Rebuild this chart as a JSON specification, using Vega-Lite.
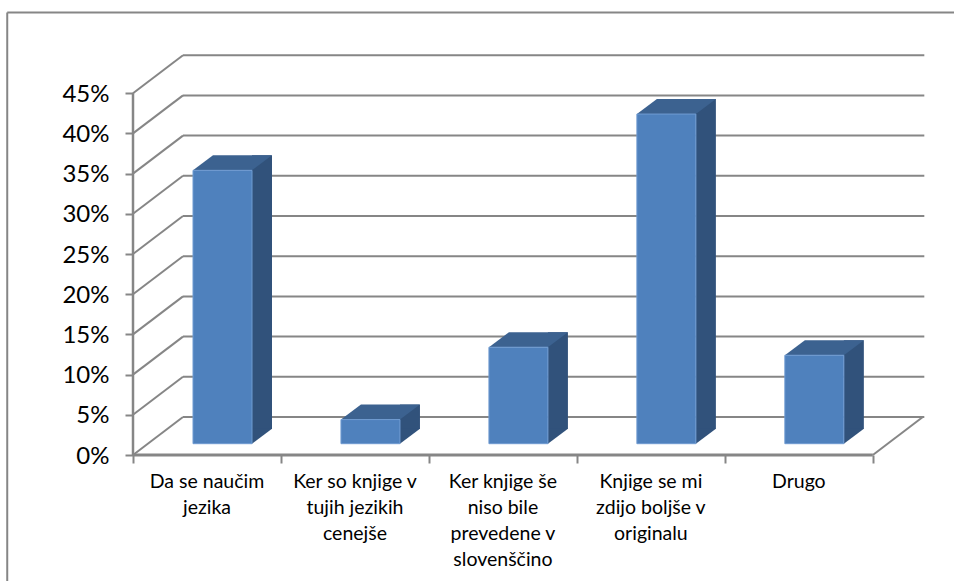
{
  "$schema": "https://vega.github.io/schema/vega-lite/v6.json",
  "width": 799,
  "height": 402,
  "padding": {"left": 133, "top": 53, "right": 22, "bottom": 126},
  "autosize": {"type": "none"},
  "background": "white",
  "view": {"stroke": null},
  "config": {"font": "Lato"},
  "datasets": {
    "answers": [
      {"order": 0, "label": "Da se naučim\njezika", "share": 0.34},
      {"order": 1, "label": "Ker so knjige v\ntujih jezikih\ncenejše", "share": 0.03},
      {"order": 2, "label": "Ker knjige še\nniso bile\nprevedene v\nslovenščino", "share": 0.12},
      {"order": 3, "label": "Knjige se mi\nzdijo boljše v\noriginalu", "share": 0.41},
      {"order": 4, "label": "Drugo", "share": 0.11}
    ],
    "levels": [
      {"level": 0}, {"level": 0.05}, {"level": 0.1}, {"level": 0.15}, {"level": 0.2},
      {"level": 0.25}, {"level": 0.3}, {"level": 0.35}, {"level": 0.4}, {"level": 0.45}
    ],
    "single": [{"part": "frame"}]
  },
  "layer": [
    {
      "data": {"name": "levels"},
      "mark": {"type": "rule", "color": "#868686", "strokeWidth": 2, "xOffset": 50, "x2Offset": 51.5, "yOffset": -38},
      "encoding": {
        "x": {"datum": 0, "type": "quantitative", "title": null, "scale": {"domain": [0, 5.4], "nice": false, "zero": false},
          "axis": {"values": [0, 1, 2, 3, 4, 5], "labels": false, "domain": false, "grid": false, "title": null, "tickColor": "#868686", "tickWidth": 2, "tickSize": 8}},
        "x2": {"datum": 5},
        "y": {"field": "level", "type": "quantitative", "title": null, "scale": {"domain": [0, 0.5], "nice": false},
          "axis": {"values": [0, 0.05, 0.1, 0.15, 0.2, 0.25, 0.3, 0.35, 0.4, 0.45], "format": ".0%", "domain": false, "grid": false, "title": null, "tickColor": "#868686", "tickWidth": 2, "tickSize": 8, "labelFontSize": 24, "labelFont": "Lato", "labelColor": "#000000", "labelPadding": 16, "labelOffset": 1}}
      }
    },
    {
      "data": {"name": "levels"},
      "mark": {"type": "rule", "color": "#868686", "strokeWidth": 2, "x2Offset": 50, "y2Offset": -38},
      "encoding": {
        "x": {"datum": 0, "type": "quantitative", "title": null},
        "x2": {"datum": 0},
        "y": {"field": "level", "type": "quantitative", "title": null},
        "y2": {"field": "level"}
      }
    },
    {
      "data": {"name": "single"},
      "mark": {"type": "rule", "color": "#868686", "strokeWidth": 2, "x2Offset": 50, "y2Offset": -38},
      "encoding": {
        "x": {"datum": 5, "type": "quantitative", "title": null},
        "x2": {"datum": 5},
        "y": {"datum": 0, "type": "quantitative", "title": null},
        "y2": {"datum": 0}
      }
    },
    {
      "data": {"name": "single"},
      "mark": {"type": "rule", "color": "#868686", "strokeWidth": 3},
      "encoding": {
        "x": {"datum": 0, "type": "quantitative", "title": null},
        "x2": {"datum": 5},
        "y": {"datum": 0, "type": "quantitative", "title": null}
      }
    },
    {
      "data": {"name": "single"},
      "mark": {"type": "rule", "color": "#868686", "strokeWidth": 2.5},
      "encoding": {
        "x": {"datum": 0, "type": "quantitative", "title": null},
        "y": {"datum": 0, "type": "quantitative", "title": null},
        "y2": {"datum": 0.45}
      }
    },
    {
      "data": {"name": "single"},
      "mark": {"type": "rule", "color": "#868686", "strokeWidth": 2},
      "encoding": {
        "x": {"datum": -0.85, "type": "quantitative", "title": null},
        "x2": {"datum": 5.6},
        "y": {"datum": 0.5505, "type": "quantitative", "title": null}
      }
    },
    {
      "data": {"name": "single"},
      "mark": {"type": "rule", "color": "#868686", "strokeWidth": 2},
      "encoding": {
        "x": {"datum": -0.85, "type": "quantitative", "title": null},
        "y": {"datum": 0.5505, "type": "quantitative", "title": null},
        "y2": {"datum": -0.2}
      }
    },
    {
      "data": {"name": "answers"},
      "mark": {"type": "rect", "color": "#31527B", "xOffset": 119, "x2Offset": 139, "yOffset": -26.3, "y2Offset": -26},
      "encoding": {
        "x": {"field": "order", "type": "quantitative", "title": null},
        "x2": {"field": "order"},
        "y": {"field": "share", "type": "quantitative", "title": null},
        "y2": {"datum": 0}
      }
    },
    {
      "data": {"name": "answers"},
      "mark": {"type": "point", "shape": "M0,0L20,-15L0,-15Z", "size": 4, "filled": true, "opacity": 1, "color": "#31527B", "xOffset": 119, "yOffset": -11.3},
      "encoding": {
        "x": {"field": "order", "type": "quantitative", "title": null},
        "y": {"datum": 0, "type": "quantitative", "title": null}
      }
    },
    {
      "data": {"name": "answers"},
      "mark": {"type": "point", "shape": "M0,0L59,0L79,-15L20,-15Z", "size": 4, "filled": true, "opacity": 1, "color": "#3C6290", "xOffset": 60, "yOffset": -11.3},
      "encoding": {
        "x": {"field": "order", "type": "quantitative", "title": null},
        "y": {"field": "share", "type": "quantitative", "title": null}
      }
    },
    {
      "data": {"name": "answers"},
      "mark": {"type": "rect", "color": "#4F81BD", "stroke": "#6F9BD1", "strokeWidth": 1, "xOffset": 60, "x2Offset": 119, "yOffset": -11.3, "y2Offset": -11.3},
      "encoding": {
        "x": {"field": "order", "type": "quantitative", "title": null},
        "x2": {"field": "order"},
        "y": {"field": "share", "type": "quantitative", "title": null},
        "y2": {"datum": 0}
      }
    },
    {
      "data": {"name": "answers"},
      "mark": {"type": "text", "font": "Lato", "fontSize": 19.5, "color": "#000000", "align": "center", "baseline": "alphabetic", "lineBreak": "\n", "lineHeight": 26, "xOffset": 74, "yOffset": 33},
      "encoding": {
        "x": {"field": "order", "type": "quantitative", "title": null},
        "y": {"datum": 0, "type": "quantitative", "title": null},
        "text": {"field": "label"}
      }
    }
  ]
}
